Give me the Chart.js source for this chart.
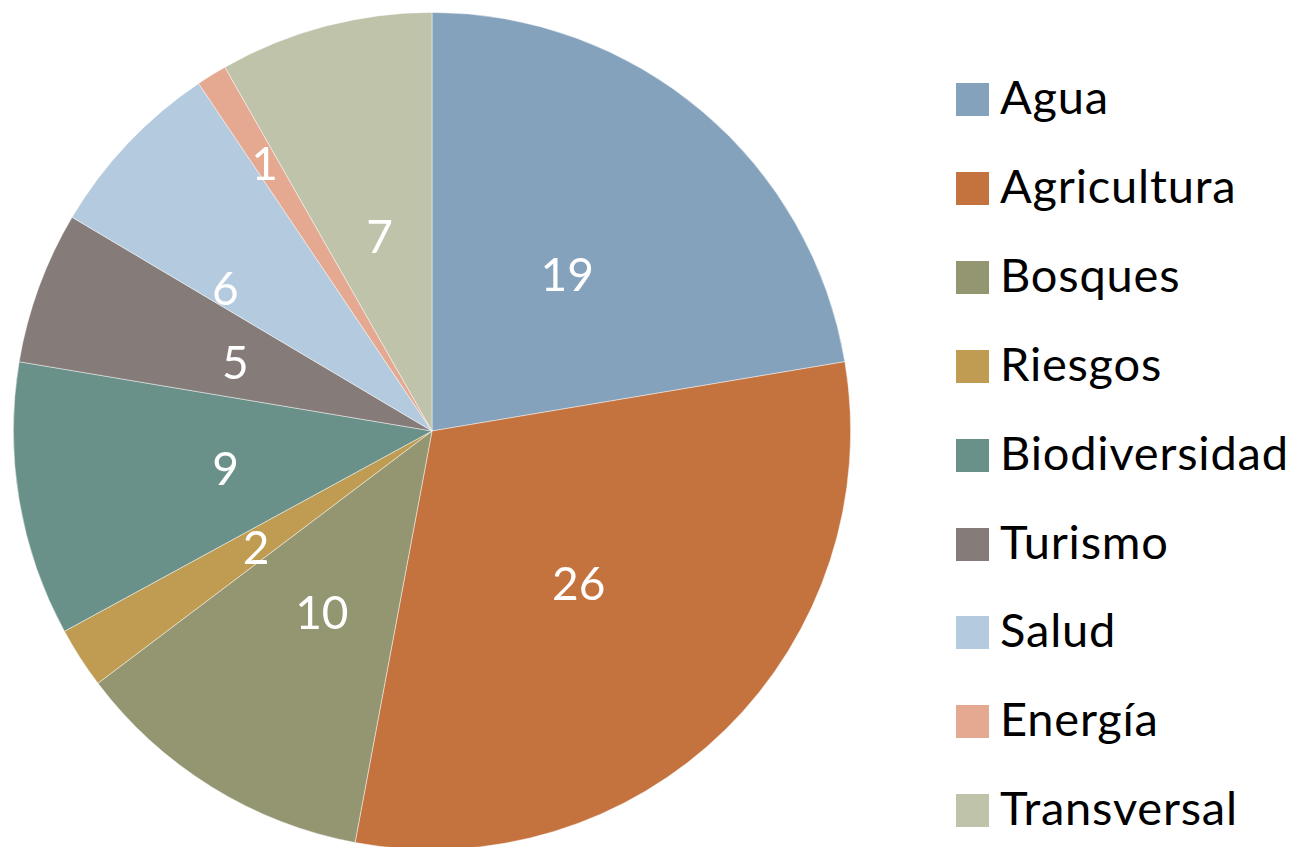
<!DOCTYPE html>
<html>
<head>
<meta charset="utf-8">
<script src="https://cdn.jsdelivr.net/npm/chart.js@4"></script>
<style>
    html, body { margin: 0; padding: 0; background: #fff; overflow: hidden; }
    body { width: 1290px; height: 847px; position: relative; font-family: "Lato", sans-serif; }
    #pieWrap { position: absolute; left: 13px; top: 12px; width: 838px; height: 838px; }
    #legend { position: absolute; left: 956px; top: 0; }
    .legend-item { position: absolute; left: 0; display: flex; align-items: center; white-space: nowrap; }
    .legend-box { width: 33px; height: 33px; margin-right: 11px; flex: none; }
    .legend-text { font-size: 47px; letter-spacing: 0.8px; line-height: 33px; color: #000; position: relative; top: -3px; }
</style>
</head>
<body>
<div id="pieWrap"><canvas id="pieChart"></canvas></div>
<div id="legend"></div>
<script>
const categories = ["Agua", "Agricultura", "Bosques", "Riesgos", "Biodiversidad", "Turismo", "Salud", "Energía", "Transversal"];
const counts = [19, 26, 10, 2, 9, 5, 6, 1, 7];
const colors = ["#84A2BC", "#C4723E", "#939671", "#BF9C52", "#6A9189", "#857B78", "#B4CADF", "#E5A890", "#BFC3AA"];

// value label placement: fraction of radius, and where across the slice (0.5 = middle)
const labelRadius = [0.5, 0.5, 0.5, 0.5, 0.5, 0.5, 0.605, 0.76, 0.49];
const labelAcross = [0.5, 0.5, 0.5, 0.5, 0.5, 0.5, 0.18, 0.5, 0.5];

const valueLabels = {
    id: "valueLabels",
    afterDatasetsDraw(chart) {
        const ctx = chart.ctx;
        const meta = chart.getDatasetMeta(0);
        ctx.save();
        ctx.fillStyle = "#fff";
        ctx.font = "46px Lato";
        ctx.textAlign = "center";
        ctx.textBaseline = "middle";
        meta.data.forEach((arc, i) => {
            const p = arc.getProps(["x", "y", "startAngle", "endAngle", "outerRadius"], true);
            const a = p.startAngle + (p.endAngle - p.startAngle) * labelAcross[i];
            const r = p.outerRadius * labelRadius[i];
            ctx.fillText(String(counts[i]), p.x + Math.cos(a) * r, p.y + Math.sin(a) * r + 5);
        });
        ctx.restore();
    }
};

new Chart(document.getElementById("pieChart"), {
    type: "pie",
    data: {
        labels: categories,
        datasets: [{
            data: counts,
            backgroundColor: colors,
            borderColor: "rgba(255,255,255,0.6)",
            borderWidth: 0.75
        }]
    },
    options: {
        responsive: true,
        maintainAspectRatio: false,
        animation: false,
        layout: { padding: 0 },
        plugins: {
            legend: { display: false },
            tooltip: { enabled: false }
        }
    },
    plugins: [valueLabels]
});

const legend = document.getElementById("legend");
legend.innerHTML = categories.map((c, i) => `
    <div class="legend-item" style="top:${83 + i * 88.9}px">
        <span class="legend-box" style="background:${colors[i]}"></span>
        <span class="legend-text">${c}</span>
    </div>
`).join("");
</script>
</body>
</html>
